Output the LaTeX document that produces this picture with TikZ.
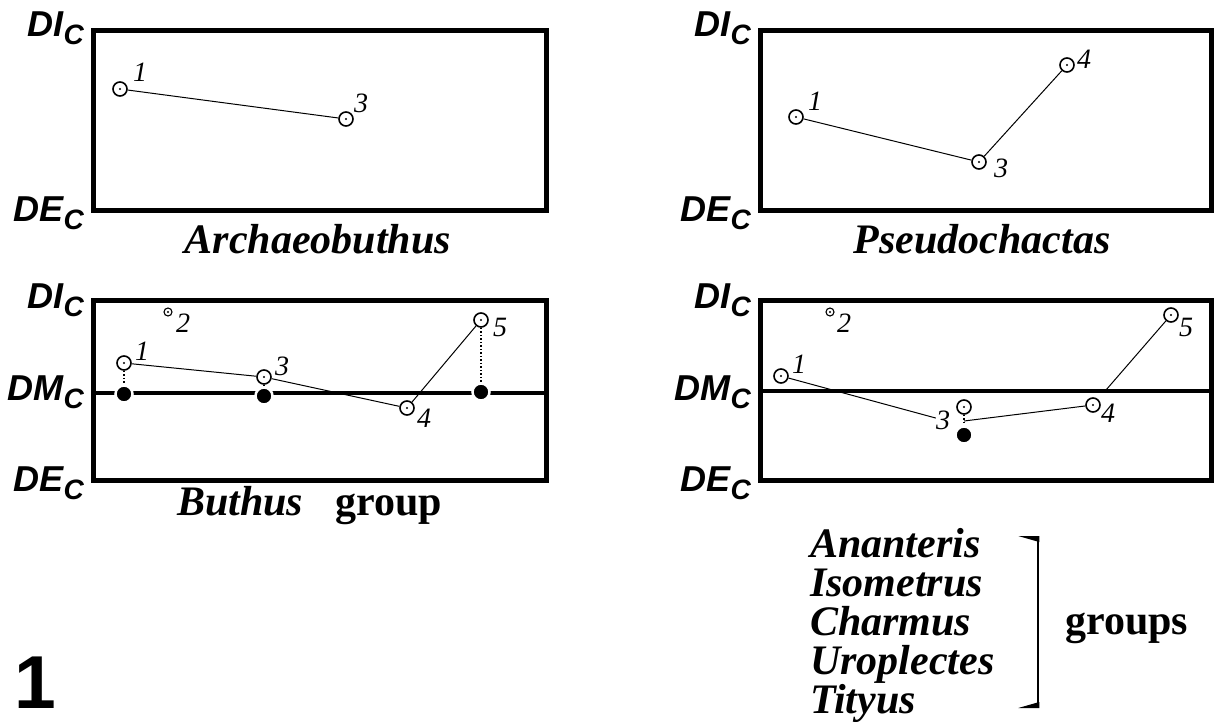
\documentclass[tikz,border=0pt]{standalone}
\usepackage{fontspec}
\setmainfont{Liberation Serif}
\setsansfont{Liberation Sans}
\usetikzlibrary{positioning,calc}
\newcommand{\axlab}[1]{#1\raisebox{-8pt}{\fontsize{28}{28}\selectfont C}}

\begin{document}
\begin{tikzpicture}[x=1pt, y=-1pt,
    frame/.style={line width=5pt},
    level/.style={line width=4pt},
    open/.style={circle, draw, line width=1.6pt, minimum size=14pt, inner sep=0pt,
      path picture={\fill (path picture bounding box.center) circle (1.2pt);}},
    small open/.style={open, minimum size=8pt, line width=1.1pt},
    filled/.style={circle, fill, draw=white, line width=2.5pt, minimum size=17pt, inner sep=0pt},
    link/.style={line width=1pt},
    drop/.style={line width=1.5pt, dotted},
    axis/.style={font=\sffamily\bfseries\itshape\fontsize{36}{36}\selectfont, anchor=base east, inner sep=0pt},
    num/.style={font=\itshape\fontsize{28}{28}\selectfont, inner sep=0pt},
    taxon/.style={font=\bfseries\itshape\fontsize{42}{42}\selectfont, inner sep=0pt},
    plain/.style={font=\bfseries\fontsize{42}{42}\selectfont, inner sep=0pt}]
  \useasboundingbox (0,0) rectangle (1216,721);
  % Panel frames
  \draw[frame] (93,30) rectangle (546,210);
  \draw[frame] (760,30) rectangle (1211,210);
  \draw[frame] (93,300) rectangle (546,480);
  \draw[frame] (760,300) rectangle (1211,480);
  \draw[level] (93,393) -- (546,393);
  \draw[level] (760,391) -- (1211,391);
  % Axis labels
  \node[axis] (AI) at (84,36) {\axlab{DI}};
  \node[axis] (AE) at (84,221) {\axlab{DE}};
  \node[axis] (PI) at (751,36) {\axlab{DI}};
  \node[axis] (PE) at (751,221) {\axlab{DE}};
  \node[axis] (BI) at (84,308) {\axlab{DI}};
  \node[axis] (BM) at (84,400) {\axlab{DM}};
  \node[axis] (BE) at (84,491) {\axlab{DE}};
  \node[axis] (GI) at (751,308) {\axlab{DI}};
  \node[axis] (GM) at (751,400) {\axlab{DM}};
  \node[axis] (GE) at (751,491) {\axlab{DE}};

  % Archaeobuthus
  \node[open] (A1) at (120,89) {};
  \node[open] (A3) at (346,119) {};
  \node[num] (A1n) at (140,72) {1};
  \node[num] (A3n) at (361,103) {3};
  \draw[link] (A1) -- (A3);
  \node[taxon, anchor=base] (archaeo) at (318,253) {Archaeobuthus};

  % Pseudochactas
  \node[open] (P1) at (796,117) {};
  \node[open] (P3) at (979,162) {};
  \node[open] (P4) at (1067,65) {};
  \node[num] (P1n) at (815,101) {1};
  \node[num] (P3n) at (1001,168) {3};
  \node[num] (P4n) at (1084,59) {4};
  \draw[link] (P1) -- (P3) -- (P4);
  \node[taxon, anchor=base] (pseudo) at (982,253) {Pseudochactas};

  % Buthus group
  \node[small open] (B2) at (168,312) {};
  \node[open] (B1) at (124,363) {};
  \node[open] (B3) at (264,377) {};
  \node[open] (B4) at (407,408) {};
  \node[open] (B5) at (481,320) {};
  \node[filled] (Bf1) at (124,394) {};
  \node[filled] (Bf3) at (264,396) {};
  \node[filled] (Bf5) at (481,392) {};
  \node[num] (B2n) at (183,323) {2};
  \node[num] (B1n) at (142,351) {1};
  \node[num] (B3n) at (282,366) {3};
  \node[num] (B4n) at (424,418) {4};
  \node[num] (B5n) at (500,327) {5};
  \draw[link] (B1) -- (B3) -- (B4) -- (B5);
  \draw[drop] (B1) -- (Bf1);
  \draw[drop] (B3) -- (Bf3);
  \draw[drop] (B5) -- (Bf5);
  \node[taxon, anchor=base west] (buthus) at (177,515) {Buthus};
  \node[plain, base right=32pt of buthus] (group) {group};

  % Other groups
  \node[small open] (G2) at (830,312) {};
  \node[open] (G1) at (781,376) {};
  \node[open] (G3) at (964,407) {};
  \node[open] (G4) at (1093,405) {};
  \node[open] (G5) at (1171,315) {};
  \node[filled] (Gf3) at (964,435) {};
  \node[num] (G2n) at (844,323) {2};
  \node[num] (G1n) at (799,364) {1};
  \node[num] (G3n) at (943,420) {3};
  \node[num] (G4n) at (1108,413) {4};
  \node[num] (G5n) at (1186,327) {5};
  \coordinate (Gv) at ($(G3)!0.5!(Gf3)$);
  \draw[link] (G1) -- (G3n);
  \draw[link, shorten <=11pt] (Gv) -- (G4) -- (G5);
  \draw[drop] (G3) -- (Gf3);
  \foreach \name [count=\i] in {Ananteris,Isometrus,Charmus,Uroplectes,Tityus}
    \node[taxon, anchor=base west] (t\i) at (810,518+39*\i) {\name};
  % Bracket
  \coordinate (bt) at (1038,537);
  \coordinate (bb) at (1038,707);
  \draw[line width=2.5pt] (bt) -- (bb);
  \fill ($(bt)+(1.25,-1)$) -- ++(-21,0) -- ++(21,6) -- cycle;
  \fill ($(bb)+(1.25,1)$) -- ++(-21,0) -- ++(21,-6) -- cycle;
  \node[plain, anchor=base west] (groups) at (1065,634) {groups};

  \node[font=\sffamily\bfseries\fontsize{75}{75}\selectfont, anchor=base west, inner sep=0pt] (fig) at (14,708) {1};
\end{tikzpicture}
\end{document}
